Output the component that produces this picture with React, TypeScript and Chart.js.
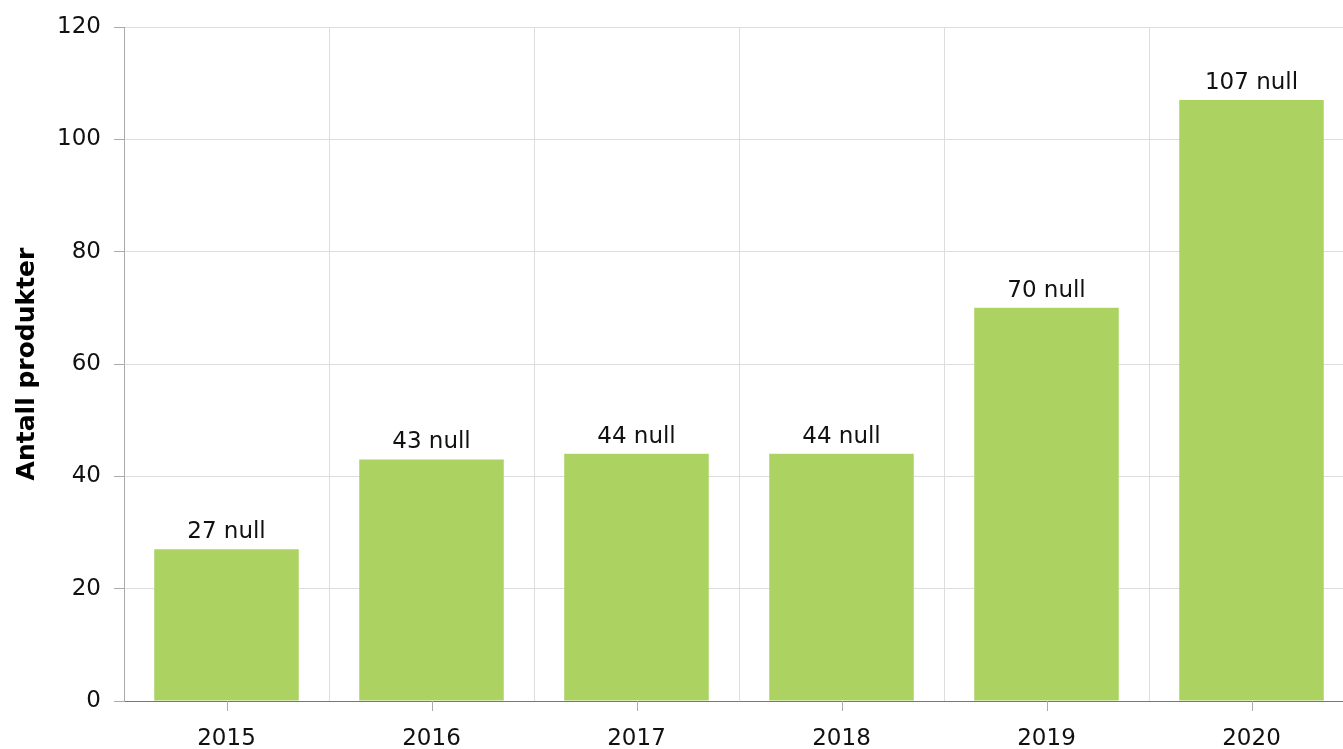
import React, { useEffect, useRef } from "react";
import { Chart, registerables } from "chart.js";

Chart.register(...registerables);

const categories = ["2015", "2016", "2017", "2018", "2019", "2020"];
const values = [27, 43, 44, 44, 70, 107];
const valueSuffix = " null";
const yTitle = "Antall produkter";
const FONT = "Verdana, 'DejaVu Sans', sans-serif";

const extrasPlugin = {
  id: "extras",
  afterDatasetsDraw(chart: any) {
    const ctx = chart.ctx;
    const meta = chart.getDatasetMeta(0);
    ctx.save();
    ctx.font = `23px ${FONT}`;
    ctx.fillStyle = "#111";
    ctx.textAlign = "center";
    ctx.textBaseline = "alphabetic";
    meta.data.forEach((bar: any, i: number) => {
      ctx.fillText(`${values[i]}${valueSuffix}`, bar.x, bar.y - 11);
    });
    const xs = chart.scales.x;
    ctx.strokeStyle = "#aaa";
    ctx.lineWidth = 1;
    categories.forEach((_, i) => {
      const x = Math.round(xs.getPixelForValue(i)) + 0.5;
      ctx.beginPath();
      ctx.moveTo(x, xs.top);
      ctx.lineTo(x, xs.top + 10);
      ctx.stroke();
    });
    ctx.restore();
  },
};

export default function App() {
  const ref = useRef<HTMLCanvasElement>(null);
  useEffect(() => {
    document.body.style.margin = "0";
    const chart = new Chart(ref.current as HTMLCanvasElement, {
      type: "bar",
      data: {
        labels: categories,
        datasets: [
          {
            data: values,
            backgroundColor: "#acd362",
            borderWidth: 0,
            barPercentage: 0.705,
            categoryPercentage: 1,
          },
        ],
      },
      options: {
        animation: false,
        responsive: false,
        maintainAspectRatio: false,
        layout: { padding: { top: 27, right: 0, left: 0, bottom: 0 } },
        plugins: { legend: { display: false }, tooltip: { enabled: false } },
        scales: {
          x: {
            grid: { color: "#dddddd", drawTicks: false, offset: true },
            border: { color: "#777" },
            ticks: { color: "#111", font: { family: FONT, size: 23 }, padding: 24, maxRotation: 0 },
            afterFit(scale: any) {
              scale.height = 48;
            },
          },
          y: {
            min: 0,
            max: 120,
            ticks: { stepSize: 20, color: "#111", font: { family: FONT, size: 23 }, padding: 13 },
            grid: { color: "#dddddd", tickColor: "#aaa", tickLength: 10 },
            border: { color: "#aaa" },
            title: {
              display: true,
              text: yTitle,
              color: "#000",
              font: { family: FONT, size: 25, weight: "bold" },
              padding: { top: 12, bottom: 0 },
            },
            afterFit(scale: any) {
              scale.width = 124;
            },
          },
        },
      },
      plugins: [extrasPlugin],
    });
    return () => chart.destroy();
  }, []);
  return (
    <div style={{ width: 1343, height: 749, overflow: "hidden" }}>
      <canvas ref={ref} width={1354} height={749} style={{ display: "block" }} />
    </div>
  );
}
